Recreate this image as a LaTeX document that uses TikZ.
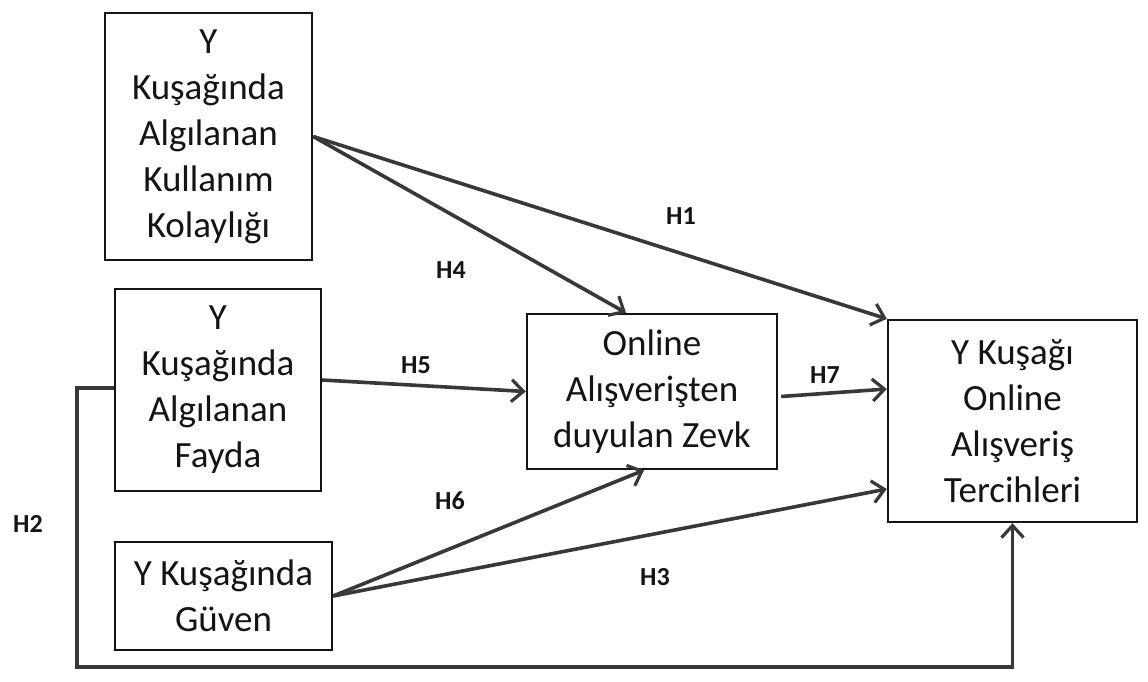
\documentclass[tikz,border=0pt]{standalone}
\usepackage{fontspec}
\setmainfont{Carlito}
\usetikzlibrary{arrows.meta,calc}
\definecolor{ink}{HTML}{141414}
\definecolor{wire}{HTML}{383838}
\tikzset{
  box/.style={draw=ink, line width=2.4pt, align=center, inner sep=0pt,
    font=\fontsize{37}{46}\selectfont, text=ink},
  link/.style={draw=wire, line width=3.6pt,
    -{Straight Barb[length=12pt,width=22pt,line width=3.2pt]}},
  hyp/.style={font=\fontsize{26}{28}\selectfont\bfseries, text=ink, inner sep=0pt}
}
\begin{document}
\begin{tikzpicture}[x=1pt,y=-1pt]
\useasboundingbox (0,0) rectangle (1148,681);
% constructs
\node[box, minimum width=207pt, minimum height=247pt] (A) at (208.5,136.5)
  {Y\\Kuşağında\\Algılanan\\Kullanım\\Kolaylığı};
\node[box, minimum width=206pt, minimum height=202pt] (B) at (218,390)
  {Y\\Kuşağında\\Algılanan\\Fayda};
\node[box, minimum width=217pt, minimum height=108pt] (C) at (223.5,596)
  {Y Kuşağında\\Güven};
\node[box, minimum width=250pt, minimum height=155pt] (D) at (652,391.5)
  {Online\\Alışverişten\\duyulan Zevk};
\node[box, minimum width=249pt, minimum height=202pt] (E) at (1012.5,421)
  {Y Kuşağı\\Online\\Alışveriş\\Tercihleri};
% hypothesised paths
\draw[link] (A.east) -- (E.north west);
\draw[link] (A.east) -- ($(D.north)+(-26,0)$);
\draw[link] ($(B.east)+(0,-10)$) -- (D.west);
\draw[link] ($(D.east)+(3,5)$) -- ($(E.west)+(0,-32)$);
\draw[link] (C.east) -- ($(D.south)+(-8,0)$);
\draw[link] (C.east) -- ($(E.west)+(0,68)$);
\coordinate (h2start) at ($(B.west)+(0,-2)$);
\coordinate (loop) at (77,667);
\draw[link] (h2start) -- (h2start -| loop) -- (loop)
  -- (loop -| E.south) -- (E.south);
% path labels
\node[hyp] (h1) at (681,216) {H1};
\node[hyp] (h4) at (451,270) {H4};
\node[hyp] (h5) at (416,365) {H5};
\node[hyp] (h7) at (825,375) {H7};
\node[hyp] (h6) at (450,501) {H6};
\node[hyp] (h3) at (655,577) {H3};
\node[hyp] (h2) at (28,524) {H2};
\end{tikzpicture}
\end{document}
